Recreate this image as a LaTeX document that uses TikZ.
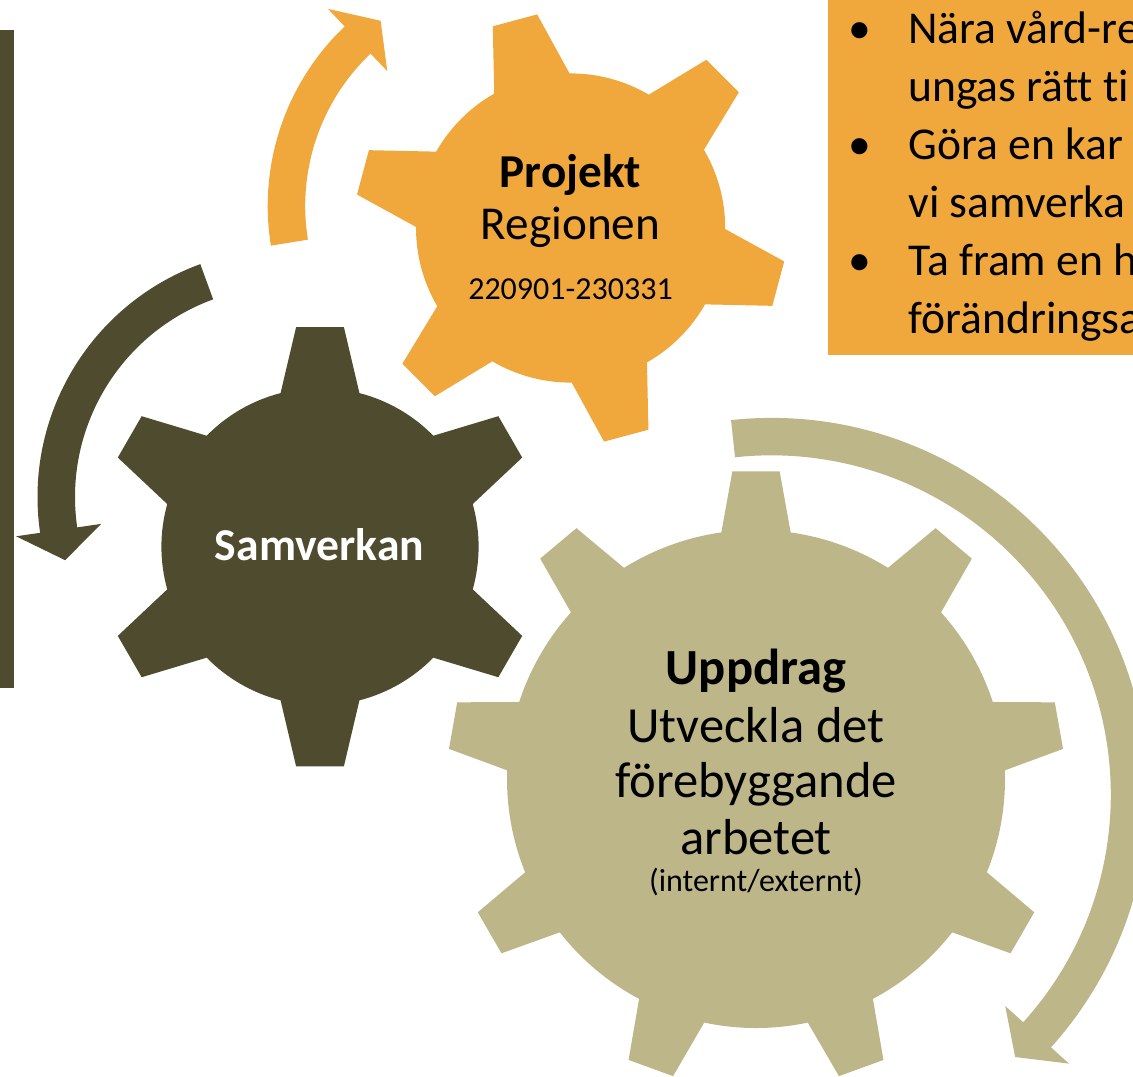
\documentclass[tikz,border=0pt]{standalone}
\usepackage{fontspec}
\setmainfont{Carlito}[Ligatures=NoCommon]
\usepackage{tikz}
\usetikzlibrary{calc}

\definecolor{samcol}{HTML}{4F4B2E}
\definecolor{projcol}{HTML}{F0A83C}
\definecolor{uppcol}{HTML}{BDB689}

% gear: centre, colour, teeth, first tooth angle, body radius, tip radius, tip half angle, root half angle
\newcommand{\gearshape}[8]{%
	\begin{scope}[shift={(#1)}]
		\fill[#2] ({#4-#8}:#5) \foreach \k in {1,...,#3}{
			-- ({#4+(\k-1)*360/#3-#7}:#6) -- ({#4+(\k-1)*360/#3+#7}:#6)
			-- ({#4+(\k-1)*360/#3+#8}:#5)
			arc[start angle={#4+(\k-1)*360/#3+#8}, end angle={#4+\k*360/#3-#8}, radius=#5]
		} -- cycle;
	\end{scope}}

% curved arrow: centre, colour, inner radius, outer radius, tail angle, head angle, tip angle
\newcommand{\roundarrow}[7]{%
	\begin{scope}[shift={(#1)}]
		\pgfmathsetmacro{\rmid}{(#3+#4)/2}
		\fill[#2] (#5:#4) arc[start angle=#5, end angle=#6, radius=#4]
			-- (#6:{\rmid+43}) -- (#7:\rmid) -- (#6:{\rmid-43})
			-- (#6:#3) arc[start angle=#6, end angle=#5, radius=#3] -- cycle;
	\end{scope}}

\begin{document}
\begin{tikzpicture}[x=0.5pt,y=0.5pt,
	txt/.style={anchor=base,inner sep=0pt,text=black},
	bigtxt/.style={txt,font=\fontsize{23.6}{28}\selectfont},
	uptxt/.style={txt,font=\fontsize{25.3}{30}\selectfont},
	smalltxt/.style={txt,font=\fontsize{16}{19}\selectfont}]
		\path[use as bounding box,clip] (0,0) rectangle (1133,-1076);

		\coordinate (samC) at (320,-546.7);
		\coordinate (projC) at (570.6,-228);
		\coordinate (uppC) at (756,-779);
		\coordinate (samArrC) at (285.5,-497);
		\coordinate (projArrC) at (515.7,-206);
		\coordinate (uppArrC) at (771.4,-794.7);

		\fill[samcol] (-5,-30) rectangle (14,-688);

		\roundarrow{samArrC}{samcol}{210.5}{248}{110.1}{188.3}{196}
		\roundarrow{projArrC}{projcol}{210.5}{248}{189.2}{133.6}{126.1}
		\roundarrow{uppArrC}{uppcol}{339.4}{376.8}{96.15}{-42.1}{-47.1}

		\gearshape{samC}{samcol}{6}{90}{158.6}{221}{6.2}{14.4}
		\gearshape{projC}{projcol}{6}{105}{154.6}{216.2}{6.1}{14.6}
		\gearshape{uppC}{uppcol}{9}{90}{249}{308.5}{4.4}{8}

		\node[txt,font=\bfseries\fontsize{23.6}{28}\selectfont] (projTitle) at (570.5,-187.3) {Projekt};
		\node[bigtxt] (projName) at (570.5,-239.3) {Regionen};
		\node[smalltxt] (projDate) at (570.5,-299) {220901-230331};

		\node[txt,text=white,font=\bfseries\fontsize{22.8}{27}\selectfont] (samTitle) at (319.5,-560) {Samverkan};

		\node[txt,font=\bfseries\fontsize{25.3}{30}\selectfont] (uppTitle) at (756,-684) {Uppdrag};
		\node[uptxt] (uppLine1) at (756,-742) {Utveckla det};
		\node[uptxt] (uppLine2) at (756,-797) {förebyggande};
		\node[uptxt] (uppLine3) at (756,-854) {arbetet};
		\node[smalltxt] (uppNote) at (756,-891) {(internt/externt)};

		\fill[projcol] (828,10) rectangle (1145,-355);
		\node[anchor=base west,inner sep=0pt,font=\fontsize{22.8}{29}\selectfont] (tasks) at (848,-43) {%
			\begin{tabular}[t]{@{}p{30pt}@{}l@{}}
				\textbullet & Nära vård-re\\
				& ungas rätt ti\\
				\textbullet & Göra en kar\\
				& vi samverka\\
				\textbullet & Ta fram en h\\
				& förändringsa
			\end{tabular}};
\end{tikzpicture}
\end{document}
